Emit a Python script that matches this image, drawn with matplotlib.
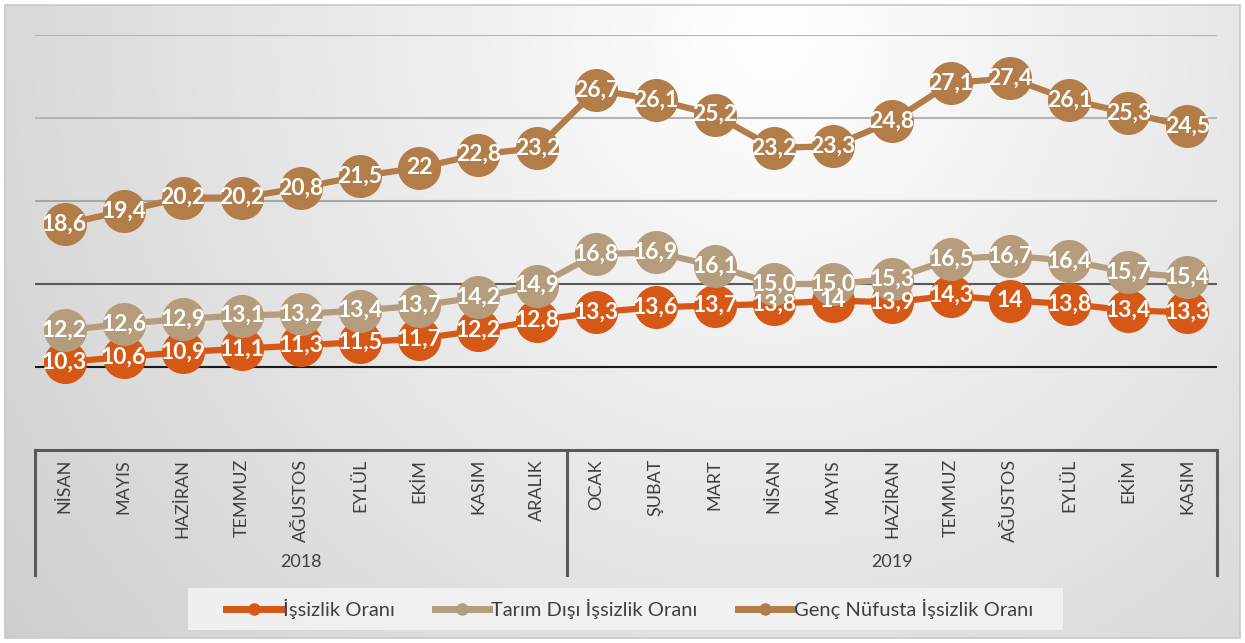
import numpy as np
import matplotlib
matplotlib.use("Agg")
import matplotlib.pyplot as plt
from matplotlib.lines import Line2D
from matplotlib.patches import Rectangle
import matplotlib.transforms as mtransforms

plt.rcParams['font.family'] = ['Lato', 'DejaVu Sans']

# data (labels as shown on the chart, Turkish decimal comma)
months = ["NİSAN", "MAYIS", "HAZİRAN", "TEMMUZ", "AĞUSTOS", "EYLÜL", "EKİM", "KASIM", "ARALIK",
          "OCAK", "ŞUBAT", "MART", "NİSAN", "MAYIS", "HAZİRAN", "TEMMUZ", "AĞUSTOS", "EYLÜL",
          "EKİM", "KASIM"]
years = ["2018", "2019"]
year_counts = [9, 11]

issizlik = ["10,3", "10,6", "10,9", "11,1", "11,3", "11,5", "11,7", "12,2", "12,8", "13,3",
            "13,6", "13,7", "13,8", "14", "13,9", "14,3", "14", "13,8", "13,4", "13,3"]
tarim_disi = ["12,2", "12,6", "12,9", "13,1", "13,2", "13,4", "13,7", "14,2", "14,9", "16,8",
              "16,9", "16,1", "15,0", "15,0", "15,3", "16,5", "16,7", "16,4", "15,7", "15,4"]
genc = ["18,6", "19,4", "20,2", "20,2", "20,8", "21,5", "22", "22,8", "23,2", "26,7",
        "26,1", "25,2", "23,2", "23,3", "24,8", "27,1", "27,4", "26,1", "25,3", "24,5"]

series = [
    ("İşsizlik Oranı", issizlik, "#D55816"),
    ("Tarım Dışı İşsizlik Oranı", tarim_disi, "#B49C7C"),
    ("Genç Nüfusta İşsizlik Oranı", genc, "#B37D4A"),
]

W, H = 1245, 643
fig = plt.figure(figsize=(W / 100, H / 100), dpi=100)

# background with soft radial gradient
bg = fig.add_axes([5 / W, 5 / H, (W - 10) / W, (H - 10) / H])
yy, xx = np.mgrid[0:H, 0:W]
d = np.sqrt(((xx - 0.62 * W) / W) ** 2 + (((yy - 0.05 * H) / H) * 0.5) ** 2)
g = np.clip(255 - 62 * d, 200, 255) / 255
bg.imshow(np.dstack([g, g, g]), aspect="auto", extent=[0, 1, 0, 1])
bg.set_xlim(0, 1)
bg.set_ylim(0, 1)
bg.set_axis_off()
fig.patches.append(Rectangle((5 / W, 5 / H), (W - 10) / W, (H - 10) / H, transform=fig.transFigure,
                             fill=False, edgecolor="#c8c8c8", lw=1.2))

# plot area
x0, x1, ytop, ybot = 35, 1217, 35, 450
ax = fig.add_axes([x0 / W, 1 - ybot / H, (x1 - x0) / W, (ybot - ytop) / H])
ax.patch.set_alpha(0)
ax.set_xlim(-0.5, len(months) - 0.5)
ax.set_ylim(5, 30)
for s in ax.spines.values():
    s.set_visible(False)
ax.set_xticks([])
ax.set_yticks([])

grid_style = {30: "#b4b4b4", 25: "#b4b4b4", 20: "#a6a6a6", 15: "#595959", 10: "#1a1a1a"}
for yv, c in grid_style.items():
    ax.axhline(yv, color=c, lw=1.5, zorder=1)
ax.axhline(5, color="#595959", lw=2.2, zorder=1, clip_on=False)

x = np.arange(len(months))
for i, (name, labels, color) in enumerate(series):
    vals = [float(v.replace(",", ".")) for v in labels]
    ax.plot(x, vals, color=color, lw=4.5, marker="o", markersize=31,
            markeredgewidth=0, zorder=3 + i, clip_on=False)
for name, labels, color in series:
    vals = [float(v.replace(",", ".")) for v in labels]
    for xi, v, t in zip(x, vals, labels):
        ax.text(xi, v, t, color="white", fontsize=16.5, fontweight="bold",
                ha="center", va="center", zorder=10)

# multi-level category axis
trans = mtransforms.blended_transform_factory(ax.transData, ax.transAxes)
bottom = -(575 - ybot) / (ybot - ytop)
edges = np.cumsum([0] + year_counts) - 0.5
for e in edges:
    ax.plot([e, e], [0, bottom], color="#595959", lw=2.2, transform=trans, clip_on=False)
for xi, m in zip(x, months):
    ax.text(xi, -9 / (ybot - ytop), m, rotation=90, ha="center", va="top", fontsize=13,
            color="#404040", transform=trans)
for k, yl in enumerate(years):
    xc = (edges[k] + edges[k + 1]) / 2
    ax.text(xc, -(562 - ybot) / (ybot - ytop), yl, ha="center", va="center", fontsize=13,
            color="#404040", transform=trans)

# legend
fig.patches.append(Rectangle((188 / W, 1 - 630 / H), (1063 - 188) / W, 42 / H,
                             transform=fig.transFigure, facecolor="#f4f4f4", edgecolor="none",
                             alpha=0.85))
handles = [Line2D([], [], color=c, lw=5, marker="o", markersize=8) for _, _, c in series]
fig.legend(handles, [n for n, _, _ in series], loc="center", bbox_to_anchor=(630 / W, 1 - 609 / H),
           ncol=3, frameon=False, fontsize=14.5, handlelength=2.7, handletextpad=0.1,
           columnspacing=2.0, labelcolor="#404040")

fig.savefig("out.png", dpi=100)
